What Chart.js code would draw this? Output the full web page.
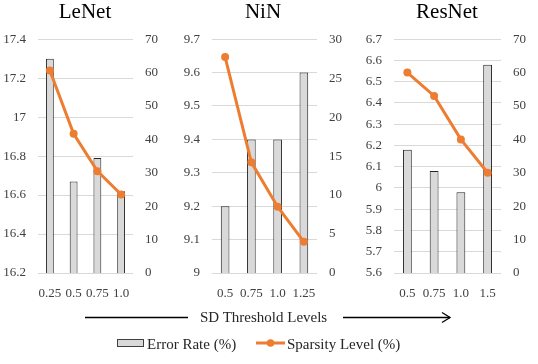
<!DOCTYPE html>
<html>
<head>
<meta charset="utf-8">
<script src="https://cdn.jsdelivr.net/npm/chart.js@4/dist/chart.umd.min.js"></script>
<style>
  body { margin: 0; background: #fff; width: 538px; height: 364px; position: relative; overflow: hidden;
         font-family: 'Liberation Serif', 'Times New Roman', serif; }
  .panel { position: absolute; top: 0; height: 305px; }
  .axis-title { position: absolute; top: 307px; left: 200px; font-size: 15px; color: #262626; line-height: 20px; }
  .legend { position: absolute; top: 334px; height: 20px; font-size: 15px; color: #262626; line-height: 20px; }
</style>
</head>
<body>
<div class="panel" style="left:0;width:170px"><canvas id="c1"></canvas></div>
<div class="panel" style="left:178px;width:170px"><canvas id="c2"></canvas></div>
<div class="panel" style="left:356px;width:182px"><canvas id="c3"></canvas></div>

<svg style="position:absolute;left:0;top:0" width="538" height="364">
  <line x1="85" y1="317.5" x2="188" y2="317.5" stroke="#000" stroke-width="1.3"/>
  <line x1="343" y1="317.5" x2="450" y2="317.5" stroke="#000" stroke-width="1.3"/>
  <polyline points="442,312.5 450,317.5 442,322.5" fill="none" stroke="#000" stroke-width="1.3"/>
  <rect x="117.5" y="339.5" width="26" height="7" fill="#d9d9d9" stroke="#404040" stroke-width="1"/>
  <line x1="256" y1="343" x2="285" y2="343" stroke="#ED7D31" stroke-width="3"/>
  <circle cx="270.5" cy="343" r="3.8" fill="#ED7D31"/>
</svg>
<div class="axis-title">SD Threshold Levels</div>
<div class="legend" style="left:147px">Error Rate (%)</div>
<div class="legend" style="left:287px">Sparsity Level (%)</div>

<script>
const lenetLabels = ['0.25', '0.5', '0.75', '1.0'];
const lenetError = [17.3, 16.67, 16.79, 16.62];
const lenetSparsity = [60.6, 41.7, 30.5, 23.5];

const ninLabels = ['0.5', '0.75', '1.0', '1.25'];
const ninError = [9.2, 9.4, 9.4, 9.6];
const ninSparsity = [27.7, 14.2, 8.5, 4];

const resnetLabels = ['0.5', '0.75', '1.0', '1.5'];
const resnetError = [6.18, 6.08, 5.98, 6.58];
const resnetSparsity = [60, 53, 40, 30];

const font = "'Liberation Serif', 'Times New Roman', serif";
const tickColor = '#404040';

function makeChart(id, title, labels, errors, sparsity, left, right, leftW, rightW) {
  const ctx = document.getElementById(id);
  return new Chart(ctx, {
    data: {
      labels,
      datasets: [
        {
          type: 'line',
          data: sparsity,
          yAxisID: 'y1',
          borderColor: '#ED7D31',
          backgroundColor: '#ED7D31',
          borderWidth: 3,
          pointRadius: 4,
          pointBackgroundColor: '#ED7D31',
          pointBorderWidth: 0,
          order: 0,
        },
        {
          type: 'bar',
          data: errors,
          yAxisID: 'y',
          backgroundColor: '#d9d9d9',
          borderColor: '#262626',
          borderWidth: 1,
          barPercentage: 0.33,
          categoryPercentage: 1,
          order: 1,
        },
      ],
    },
    options: {
      responsive: true,
      maintainAspectRatio: false,
      animation: false,
      layout: { padding: 0 },
      plugins: {
        legend: { display: false },
        tooltip: { enabled: false },
        title: {
          display: true,
          text: title,
          color: '#000',
          font: { family: font, size: 21, weight: 'normal' },
          padding: { top: 0, bottom: 14 },
        },
      },
      scales: {
        x: {
          grid: { display: false },
          border: { display: false },
          ticks: { color: tickColor, font: { family: font, size: 13 }, padding: 5, maxRotation: 0, autoSkip: false },
          afterFit: (s) => { s.height = 32; },
        },
        y: {
          position: 'left',
          min: left.min,
          max: left.max,
          grid: { color: '#d9d9d9', drawTicks: false, lineWidth: 1 },
          border: { display: false },
          ticks: {
            stepSize: left.step,
            color: tickColor,
            font: { family: font, size: 13 },
            padding: 12,
            callback: (v) => String(+v.toFixed(2)),
          },
          afterFit: (s) => { s.width = leftW; },
        },
        y1: {
          position: 'right',
          min: 0,
          max: right.max,
          grid: { display: false, drawTicks: false },
          border: { display: false },
          ticks: {
            stepSize: right.step,
            color: tickColor,
            font: { family: font, size: 13 },
            padding: 12,
          },
          afterFit: (s) => { s.width = rightW; },
        },
      },
    },
  });
}

makeChart('c1', 'LeNet', lenetLabels, lenetError, lenetSparsity,
  { min: 16.2, max: 17.4, step: 0.2 }, { max: 70, step: 10 }, 38, 37);
makeChart('c2', 'NiN', ninLabels, ninError, ninSparsity,
  { min: 9, max: 9.7, step: 0.1 }, { max: 30, step: 5 }, 34, 31);
makeChart('c3', 'ResNet', resnetLabels, resnetError, resnetSparsity,
  { min: 5.6, max: 6.7, step: 0.1 }, { max: 70, step: 10 }, 38, 37);
</script>
</body>
</html>
